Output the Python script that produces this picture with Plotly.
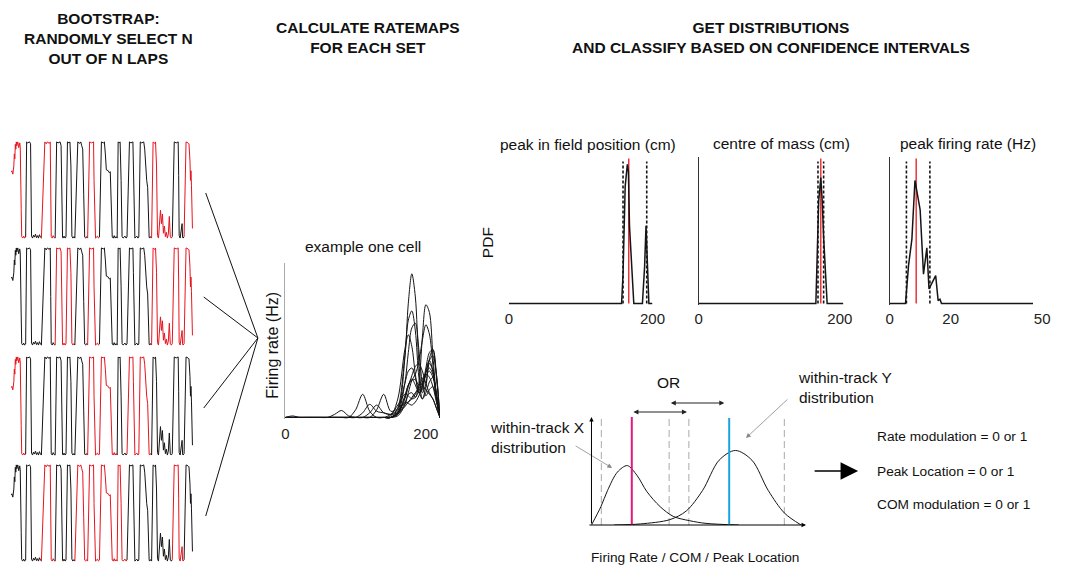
import plotly.graph_objects as go

W, H = 1065, 566
FONT = "Liberation Sans, Arial, sans-serif"
RED = "#e8141e"
BLACK = "#151515"
MAGENTA = "#e5197b"
CYAN = "#1ba3e0"

# ---------------- behaviour: track position over time (laps) ----------------
lap_time = [
    0, 1, 2, 3, 3.5, 4, 4.5, 5, 5.5, 6, 7, 8, 9, 9.5, 10.5, 11, 12, 13, 14, 15,
    15.5, 16, 17, 19, 20, 20.5, 21, 22, 23, 24, 25, 26, 27, 28, 29, 30, 31,
    32, 33, 34.5, 36, 37, 39, 40, 40.5, 41, 42, 43, 44, 45,
    46, 46.5, 48, 50, 51, 51.5, 52.5, 53, 54, 55, 56,
    57, 57.5, 59, 60, 61, 62, 63, 64, 65,
    66.5, 68, 70, 71, 72, 73, 74, 75, 76, 77, 78,
    79, 80, 82, 84, 84.5, 85.5, 86, 88, 89, 90,
    91, 92, 94, 95, 96, 97, 99, 100, 101, 102, 103, 104, 105, 106, 107, 108,
    108.5, 109, 110, 111, 112, 113, 114, 116, 117, 118,
    119.5, 120.5, 122, 124, 124.5, 125.5, 126, 128, 129, 130,
    130.5, 131.5, 133, 135, 136, 137, 138, 139, 139.5, 140.5, 141, 142, 143,
    143.5, 144.5, 146, 147, 148, 149, 150, 151, 152, 153, 154, 155, 156, 157,
    158, 159, 160, 161, 161.5, 162, 163, 164,
    165, 166, 168, 170, 170.5, 171, 172, 173, 174, 174.5, 175, 176,
    177, 178, 180, 181, 182, 182.5, 183, 183.5, 184, 184.5,
]
lap_position = [
    137, 140, 133, 150, 175, 165, 195, 185, 200, 192, 200, 188, 198, 190, 60, 3, 0, 4, 0, 2,
    100, 200, 198, 200, 196, 100, 4, 0, 6, 2, 8, 1, 5, 0, 7, 2, 0,
    60, 140, 200, 196, 200, 197, 200, 100, 3, 0, 5, 1, 0,
    120, 200, 198, 200, 192, 100, 2, 0, 4, 0, 2,
    130, 200, 198, 200, 150, 4, 0, 3, 0,
    100, 200, 197, 200, 192, 185, 90, 2, 0, 3, 0,
    100, 200, 198, 200, 120, 2, 0, 4, 0, 2,
    100, 200, 198, 200, 175, 142, 140, 136, 138, 70, 2, 0, 5, 0, 3, 0,
    100, 200, 198, 200, 120, 3, 0, 4, 0, 2,
    100, 200, 198, 200, 150, 3, 0, 4, 0, 2,
    100, 200, 198, 200, 185, 140, 120, 105, 60, 2, 0, 3, 0,
    100, 200, 197, 200, 150, 5, 0, 40, 58, 30, 50, 10, 25, 3,
    12, 0, 8, 45, 10, 2, 0, 3,
    120, 200, 198, 200, 130, 5, 0, 15, 30, 2, 0, 3,
    120, 200, 198, 196, 160, 120, 140, 110, 60, 20,
]
lap_start_time = [0, 15, 31, 45, 56, 65, 78, 90, 108, 118, 130, 143, 164, 176]

# laps drawn in red in each bootstrap set (1 = red, 0 = black)
set1_selected = [1, 0, 1, 0, 0, 0, 1, 0, 0, 0, 0, 1, 0, 1]
set2_selected = [0, 0, 0, 1, 1, 0, 1, 0, 0, 0, 0, 1, 1, 1]
set3_selected = [1, 0, 0, 0, 0, 0, 1, 1, 0, 1, 1, 0, 0, 0]
set4_selected = [0, 0, 1, 0, 0, 1, 1, 1, 1, 0, 0, 0, 1, 0]

# ---------------- ratemaps of one cell, one per bootstrap set ----------------
ratemap_bins = [0, 10, 20, 30, 40, 50, 60, 70, 80, 90, 100, 110, 120, 130, 140,
                150, 160, 170, 175, 180, 185, 190, 195, 200, 205, 210, 215, 220]
rate_set01 = [0, 0, 0, 0, 0, 0, 0, 0, 0, 0, 0, 0, 0, 0, 0, 0, 0.4, 3.8, 7.4, 9.3, 7.8, 3.6, 1.6, 2.2, 3.5, 3.0, 1.2, 0]
rate_set02 = [0, 0, 0, 0, 0, 0, 0, 0, 0, 0, 0, 0, 0, 0, 0, 0, 0.2, 0.9, 1.5, 1.6, 1.3, 2.2, 5.2, 7.3, 6.8, 4.0, 1.4, 0]
rate_set03 = [0, 0, 0, 0, 0, 0, 0, 0, 0, 0, 0, 0, 0, 0, 0, 0, 0.6, 4.0, 6.3, 6.9, 5.6, 2.6, 1.2, 2.0, 3.8, 4.4, 2.6, 0]
rate_set04 = [0, 0, 0, 0, 0, 0, 0, 0, 0, 0, 0, 0, 0, 0, 0, 0, 0.1, 0.8, 1.6, 2.4, 2.8, 3.6, 5.0, 6.0, 5.4, 3.4, 1.2, 0]
rate_set05 = [0, 0, 0, 0, 0, 0, 0, 0, 0, 0, 0, 0, 0, 0, 0, 0, 0.3, 2.2, 4.2, 5.8, 6.1, 4.4, 2.2, 1.4, 1.8, 2.0, 1.1, 0]
rate_set06 = [0, 0, 0, 0, 0, 0, 0, 0, 0, 0, 0, 0, 0, 0, 0, 0.1, 1.2, 4.4, 5.35, 4.6, 2.8, 1.6, 1.8, 3.0, 3.7, 3.0, 1.4, 0]
rate_set07 = [0, 0, 0, 0, 0, 0, 0, 0, 0, 0, 0, 0, 0, 0, 0, 0, 0.2, 1.3, 2.1, 2.5, 2.1, 1.6, 2.0, 3.2, 4.2, 4.4, 2.8, 0]
rate_set08 = [0, 0, 0, 0, 0, 0, 0, 0, 0, 0, 0.5, 1.5, 0.4, 0, 0, 0, 0.3, 1.2, 2.0, 2.7, 3.3, 3.5, 3.0, 2.2, 1.6, 1.2, 0.6, 0]
rate_set09 = [0, 0, 0, 0, 0, 0, 0, 0, 0, 0, 0, 0, 0, 0.5, 1.5, 0.4, 0.6, 2.2, 3.0, 3.2, 2.6, 1.7, 1.2, 1.6, 2.3, 2.6, 1.6, 0]
rate_set10 = [0, 0, 0, 0, 0, 0, 0, 0.2, 0.45, 0.1, 0, 0, 0, 0, 0, 0, 0.3, 1.4, 2.1, 2.4, 2.45, 2.1, 2.2, 2.7, 3.0, 2.6, 1.4, 0]
rate_set11 = [0, 0.1, 0, 0, 0, 0, 0, 0, 0, 0, 0, 0.3, 0.85, 0.4, 0.3, 0.2, 0.3, 0.7, 1.0, 1.3, 1.6, 1.9, 2.0, 1.8, 1.5, 1.2, 0.6, 0]
rate_set12 = [0, 0, 0, 0, 0, 0, 0, 0, 0, 0, 0, 0, 0, 0, 0, 0.2, 0.8, 1.5, 1.4, 1.2, 1.3, 1.7, 2.3, 2.9, 3.2, 2.8, 1.5, 0]
rate_set13 = [0, 0, 0, 0, 0, 0, 0, 0, 0, 0, 0, 0, 0, 0, 0, 0, 0.3, 1.0, 0.9, 0.8, 1.0, 1.4, 2.0, 2.9, 3.7, 4.0, 2.8, 0]
rate_set14 = [0, 0, 0, 0, 0, 0, 0, 0, 0, 0, 0, 0, 0.3, 0.8, 0.3, 0.2, 0.5, 0.9, 1.0, 1.2, 1.5, 2.0, 2.5, 2.8, 2.6, 2.0, 1.0, 0]

# ---------------- bootstrap distributions ----------------
peak_pos_x = [0, 157, 159, 162, 165, 166.5, 168, 171, 174, 186, 189, 191, 193, 195, 200]
peak_pos_pdf = [0, 0, 0.2, 0.8, 0.95, 0.9, 0.53, 0.3, 0, 0, 0.25, 0.53, 0.25, 0, 0]
peak_pos_ci = [159, 192]
peak_pos_mean = 167

com_x = [0, 166, 168, 170, 173, 175, 177, 180, 182, 205]
com_pdf = [0, 0, 0.35, 0.7, 0.86, 0.7, 0.45, 0.15, 0, 0]
com_ci = [169, 177]
com_mean = 173

peak_rate_x = [0, 5.2, 6.2, 7.3, 8.3, 8.8, 10.0, 11.1, 12.2, 12.9, 14.0, 15.1, 15.9, 16.5, 17.0, 47]
peak_rate_pdf = [0, 0, 0.26, 0.44, 0.84, 0.78, 0.64, 0.2, 0.38, 0.1, 0.14, 0.19, 0.02, 0.03, 0, 0]
peak_rate_ci = [5.5, 13.2]
peak_rate_mean = 8.7

# ---------------- schematic of two within-track distributions ----------------
track_x_pos = [0, 4.4, 7.5, 12.1, 16.7, 21.2, 25.8, 32.0, 38.1, 45.7, 53.4, 68.7]
track_x_pdf = [0, 0.17, 0.32, 0.49, 0.55, 0.46, 0.31, 0.17, 0.08, 0.04, 0.015, 0]
track_y_pos = [10.6, 22.8, 36.6, 44.2, 51.8, 59.5, 67.1, 74.8, 82.4, 90.0, 97.7]
track_y_pdf = [0, 0.01, 0.05, 0.13, 0.32, 0.6, 0.69, 0.6, 0.32, 0.11, 0]
track_x_ci = [4.6, 36.2]
track_y_ci = [45.4, 89.9]
track_x_mean = 18.8
track_y_mean = 64.2


def px_x(p):
    return p / W


def px_y(p):
    return 1 - p / H


def dom_x(a, b):
    return [a / W, b / W]


def dom_y(top, bottom):
    return [1 - bottom / H, 1 - top / H]


fig = go.Figure()
layout_axes = {}


def add_axes(n, xdom, ydom, xr, yr, xkw=None, ykw=None):
    base = dict(showgrid=False, zeroline=False, showline=False, showticklabels=False,
                ticks="", fixedrange=True)
    xid = "x" if n == 1 else f"x{n}"
    yid = "y" if n == 1 else f"y{n}"
    xa = dict(base, domain=xdom, range=xr, anchor=yid)
    ya = dict(base, domain=ydom, range=yr, anchor=xid)
    if xkw:
        xa.update(xkw)
    if ykw:
        ya.update(ykw)
    key = "" if n == 1 else str(n)
    layout_axes[f"xaxis{key}"] = xa
    layout_axes[f"yaxis{key}"] = ya
    return xid, yid


def line(xid, yid, x, y, color=BLACK, width=1.0, dash=None, shape="linear"):
    fig.add_trace(go.Scatter(
        x=x, y=y, mode="lines", xaxis=xid, yaxis=yid, hoverinfo="skip",
        line=dict(color=color, width=width, dash=dash, shape=shape, smoothing=0.9),
    ))


# ---- four bootstrap sets of laps ----
panel_rows = [(140, 240), (246, 347), (355, 457), (463, 563)]
sets = [set1_selected, set2_selected, set3_selected, set4_selected]
start_idx = [lap_time.index(t) for t in lap_start_time]
for k, (sel, (top, bot)) in enumerate(zip(sets, panel_rows)):
    xid, yid = add_axes(k + 1, dom_x(7, 192), dom_y(top, bot), [0, 185], [-4, 204])
    for i, flag in enumerate(sel):
        a = start_idx[i]
        b = start_idx[i + 1] + 1 if i + 1 < len(start_idx) else len(lap_time)
        line(xid, yid, lap_time[a:b], lap_position[a:b],
             color=RED if flag else BLACK, width=1.0)

# ---- ratemaps ----
tickfont = dict(family=FONT, size=15, color="#222")
xid, yid = add_axes(
    5, dom_x(286, 443), dom_y(263, 419), [0, 220], [-0.1, 10],
    xkw=dict(showticklabels=True, tickvals=[0, 200], tickfont=tickfont, ticklabelstandoff=4),
    ykw=dict(showline=True, linecolor="#aaaaaa", linewidth=1),
)
for row in [rate_set01, rate_set02, rate_set03, rate_set04, rate_set05, rate_set06, rate_set07,
            rate_set08, rate_set09, rate_set10, rate_set11, rate_set12, rate_set13, rate_set14]:
    line(xid, yid, ratemap_bins, row, width=1.0, shape="spline")

# ---- distributions with confidence intervals ----
dist_panels = [
    (6, (513, 659), [0, 200], [0, 200], peak_pos_x, peak_pos_pdf, peak_pos_ci, peak_pos_mean, False),
    (7, (706, 853), [0, 205], [0, 200], com_x, com_pdf, com_ci, com_mean, True),
    (8, (900, 1055), [0, 50], [0, 20, 50], peak_rate_x, peak_rate_pdf, peak_rate_ci, peak_rate_mean, True),
]
for n, (xa, xb), xr, ticks, dx, dy, ci, mean, yline in dist_panels:
    xid, yid = add_axes(
        n, dom_x(xa, xb), dom_y(157, 305), xr, [-0.01, 1.0],
        xkw=dict(showticklabels=True, tickvals=ticks, tickfont=tickfont, ticklabelstandoff=3),
        ykw=dict(showline=yline, linecolor="#333333", linewidth=1),
    )
    for c in ci:
        line(xid, yid, [c, c], [0, 0.97], color=BLACK, width=1.6, dash="3px,2px")
    line(xid, yid, [mean, mean], [0, 0.99], color=RED, width=1.3)
    line(xid, yid, dx, dy, color=BLACK, width=1.5)

# ---- schematic ----
xid, yid = add_axes(9, dom_x(597, 815), dom_y(417, 525), [0, 100], [0, 1])
for c in track_x_ci + track_y_ci:
    line(xid, yid, [c, c], [0, 0.99], color="#aaaaaa", width=1.0, dash="7px,4px")
line(xid, yid, track_x_pos, track_x_pdf, width=1.0, shape="spline")
line(xid, yid, track_y_pos, track_y_pdf, width=1.0, shape="spline")
line(xid, yid, [track_x_mean, track_x_mean], [0, 1.0], color=MAGENTA, width=2.0)
line(xid, yid, [track_y_mean, track_y_mean], [0, 0.99], color=CYAN, width=2.0)

# ---- text ----
annotations = []


def text(s, x, y, size=15.5, xanchor="center", align="center", angle=0, bold=False):
    annotations.append(dict(
        text=f"<b>{s}</b>" if bold else s, x=px_x(x), y=px_y(y), xref="paper", yref="paper",
        xanchor=xanchor, yanchor="middle", align=align, textangle=angle, showarrow=False,
        font=dict(family=FONT, size=size, color="#111"),
    ))


def arrow(x0, y0, x1, y1, color="#111", width=1.0, head=2, size=1.0, both=False):
    annotations.append(dict(
        text="", x=px_x(x1), y=px_y(y1), xref="paper", yref="paper",
        ax=x0 - x1, ay=y0 - y1, axref="pixel", ayref="pixel", showarrow=True,
        arrowhead=head, arrowsize=size, arrowwidth=width, arrowcolor=color,
        arrowside="end+start" if both else "end", standoff=0, startstandoff=0,
    ))


text("BOOTSTRAP:<br>RANDOMLY SELECT N<br>OUT OF N LAPS", 106, 38, size=15.5, bold=True)
text("CALCULATE RATEMAPS<br>FOR EACH SET", 370, 37.5, size=15.5, bold=True)
text("GET DISTRIBUTIONS<br>AND CLASSIFY BASED ON CONFIDENCE INTERVALS", 779, 37.5, size=15.5, bold=True)

text("example one cell", 365, 246)
text("Firing rate (Hz)", 272, 345, size=16, angle=-90)
text("peak in field position (cm)", 593, 144)
text("centre of mass (cm)", 790, 143)
text("peak firing rate (Hz)", 980, 143)
text("PDF", 492, 243, angle=-90)

text("OR", 675, 382)
text("within-track X<br>distribution", 492, 437.5, xanchor="left", align="left")
text("within-track Y<br>distribution", 805, 387.5, xanchor="left", align="left")
text("Rate modulation = 0 or 1", 885, 436, size=13.7, xanchor="left", align="left")
text("Peak Location = 0 or 1", 885, 471, size=13.7, xanchor="left", align="left")
text("COM modulation = 0 or 1", 885, 504, size=13.7, xanchor="left", align="left")
text("Firing Rate / COM / Peak Location", 702, 557, size=13.7)

# arrows
arrow(580, 445, 618, 468, color="#888888", width=0.8, head=2, size=1.2)
arrow(797, 398, 754, 438, color="#888888", width=0.8, head=2, size=1.2)
arrow(639, 412, 694, 412, color="#222", width=1.0, head=2, size=1.0, both=True)
arrow(677, 403, 732, 403, color="#222", width=1.0, head=2, size=1.0, both=True)
arrow(823, 471, 868, 471, color="#000", width=1.6, head=2, size=2.2)
arrow(597, 525, 597, 417, color="#000", width=1.0, head=2, size=0.9)
arrow(597, 525, 815, 525, color="#000", width=1.0, head=2, size=0.9)

# lines joining the bootstrap sets to the ratemap panel
shapes = []
for (x0, y0) in [(205, 193), (203, 297), (203, 408), (205, 516)]:
    shapes.append(dict(type="line", xref="paper", yref="paper",
                       x0=px_x(x0), y0=px_y(y0), x1=px_x(258), y1=px_y(338),
                       line=dict(color="#111", width=1)))

fig.update_layout(
    width=W, height=H, margin=dict(l=0, r=0, t=0, b=0),
    paper_bgcolor="white", plot_bgcolor="rgba(0,0,0,0)",
    showlegend=False, annotations=annotations, shapes=shapes,
    font=dict(family=FONT), **layout_axes,
)
fig.write_html("out.html")
